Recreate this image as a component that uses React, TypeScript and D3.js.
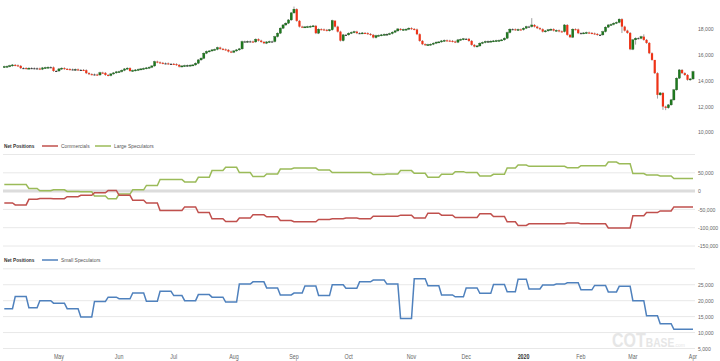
import React from "react";
import * as d3 from "d3";

// trading calendar: Apr 2 2019 -> Apr 1 2020, weekdays minus exchange holidays
const startDay = "2019-04-02";
const endDay = "2020-04-02";
const holidays = [
  "2019-04-19", "2019-05-27", "2019-07-04", "2019-09-02", "2019-11-28",
  "2019-12-25", "2020-01-01", "2020-01-20", "2020-02-17",
];

// daily closes, one row per week
const closes = [
  15090, 15110, 15160, 15220,
  15185, 15145, 14970, 14970, 14950,
  14970, 14960, 14950, 14940,
  14890, 14990, 15010, 15040, 15030,
  14750, 14750, 14910, 14970, 14910,
  14890, 14870, 14860, 14870, 14830,
  14830, 14810, 14580, 14500, 14480,
  14470, 14440, 14620, 14600, 14440,
  14400, 14520, 14600, 14680,
  14700, 14800, 14910, 14970, 14750,
  14790, 14830, 14870, 14910, 14950,
  14990, 15040, 15140, 15480, 15420,
  15380, 15340, 15340, 15300, 15300,
  15280, 15220, 15090, 15140,
  15170, 15180, 15200, 15220, 15350,
  15610, 15740, 16130, 16270, 16310,
  16390, 16430, 16570, 16470, 16430,
  16390, 16260, 16210, 16310, 16390,
  16470, 17040, 17040, 17050, 17040,
  17010, 17220, 17110, 17010, 16910,
  17010, 17040, 17040, 17420, 17690,
  18080, 18330, 18470, 18720, 19270,
  19560, 18650, 18200, 18160,
  18180, 18200, 18230, 18260, 17690,
  18000, 17980, 17950, 17890, 17950,
  18670, 18200, 17810, 17110, 17560,
  17560, 17690, 17750, 17810, 17690,
  17690, 17710, 17690, 17630, 17560,
  17350, 17500, 17520, 17560, 17600,
  17610, 17660, 17770, 17870, 18020,
  17950, 17980, 18000, 18080, 18020,
  17980, 17610, 17090, 16830, 16780,
  16800, 16830, 16910, 16990, 17010,
  17090, 17130, 17110, 17090, 17040,
  16990, 17170, 17210, 17250,
  17250, 17090, 16780, 16650, 16700,
  16910, 16970, 17040, 17050, 17070,
  17090, 17110, 17130, 17170, 17300,
  17740, 18000, 17990, 17950,
  17980, 17960, 18080, 18200,
  18200, 18330, 18200, 18080, 18000,
  17810, 17870, 17950, 18000, 17890,
  17910, 17830, 17810, 18330,
  17560, 17380, 18000, 17980, 17690,
  17690, 17710, 17740, 17710, 17670,
  17630, 17560, 17560, 17810, 18160,
  18330, 18370, 18470, 18530,
  18780, 18200, 17890, 17710, 16440,
  17170, 17300, 17290, 17420, 17170,
  16930, 16130, 15610, 14580, 12890,
  13040, 11980, 11880, 12110, 12500,
  13280, 14190, 14830, 14580, 14440,
  14060, 14130, 14700,
];
const firstOpen = 15060;
// notable wicks (index -> price)
const highs: Record<number, number> = { 106: 19760, 193: 18860, 121: 18500, 234: 17600, 238: 14900 };
const lows: Record<number, number> = { 239: 12600, 241: 11720, 242: 11700, 226: 17700, 231: 16800 };

// weekly net positions (one value per trading week)
const commercials = [
  -32400, -37800, -22400, -20000, -20800, -15400, -11600, -4600, 1900, -11600,
  -25100, -32400, -53200, -53200, -43200, -58600, -75700, -83000, -73800, -64900,
  -70300, -80300, -83800, -83800, -77600, -75700, -73800, -75700, -68400, -68400,
  -65700, -73800, -60300, -65700, -72200, -72200, -62200, -69200, -83800, -93800,
  -89200, -89200, -89200, -87000, -89500, -89500, -100800, -100800, -67600, -58600,
  -54100, -43200, -43200,
];
const largeSpeculators = [
  18100, 18100, 7300, 800, 3500, -800, -1800, -13500, -20800, -8100,
  3500, 15400, 31600, 31600, 25100, 37800, 56000, 64900, 50500, 39700,
  46800, 60300, 63000, 63000, 57600, 50500, 50500, 50500, 45100, 46800,
  56000, 48600, 37800, 46000, 53100, 50500, 41400, 46000, 63000, 71300,
  67600, 67600, 67600, 64000, 69400, 69400, 79200, 74900, 47800, 44100,
  41400, 34300, 34300,
];
const smallSpeculators = [
  17500, 21300, 17800, 20000, 19230, 17500, 14900, 19750, 21100, 20600,
  22400, 19850, 22950, 21600, 20000, 21900, 21100, 19550, 25200, 25900,
  24000, 21800, 22400, 24600, 21600, 25000, 23900, 25900, 26450, 25200,
  14400, 26850, 24700, 21800, 21200, 24000, 22300, 25100, 22800, 26750,
  23650, 24900, 25200, 25600, 23400, 24800, 22750, 24500, 20000, 15300,
  12750, 11000, 11000,
];

const priceTicks = [10000, 12000, 14000, 16000, 18000];
const netTicks = [-150000, -100000, -50000, 0, 50000, 100000];
const smallTicks = [5000, 10000, 15000, 20000, 25000, 30000];

const FONT = "'Liberation Sans', Arial, sans-serif";
const fmtNum = (v: number) => d3.format(",")(v).replace("\u2212", "-");

// condensed text: squeeze horizontally like a narrow face
const Narrow = ({ x, y, anchor = "start", size = 6.25, fill = "#666", bold = false, children }: any) => (
  <g transform={`translate(${x},${y}) scale(0.82,1)`}>
    <text dy="0.35em" textAnchor={anchor} fontSize={size} fill={fill} fontWeight={bold ? "bold" : "normal"}>
      {children}
    </text>
  </g>
);

export default function App() {
  const dayKey = d3.utcFormat("%Y-%m-%d");
  const days = d3.utcDay
    .range(new Date(startDay), new Date(endDay))
    .filter((d) => d.getUTCDay() !== 0 && d.getUTCDay() !== 6 && !holidays.includes(dayKey(d)));

  // week index of every trading day
  const weekKeys: number[] = [];
  const weekOf = days.map((d) => {
    const k = +d3.utcMonday.floor(d);
    if (weekKeys[weekKeys.length - 1] !== k) weekKeys.push(k);
    return weekKeys.length - 1;
  });

  const x = d3.scaleLinear().domain([0, days.length - 1]).range([4.3, 693]);
  const yPrice = d3.scaleLinear().domain([10000, 20000]).range([132, 3.5]);
  const yNet = d3.scaleLinear().domain([-150000, 100000]).range([246, 154.5]);
  const ySmall = d3.scaleLinear().domain([5000, 30000]).range([348.5, 268.8]);

  const monthTicks = days
    .map((d, i) => ({ d, i }))
    .filter(({ d, i }) => i > 0 && d.getUTCMonth() !== days[i - 1].getUTCMonth());

  const left = 3;
  const right = 695;

  const lineFor = (series: number[], y: d3.ScaleLinear<number, number>) =>
    d3
      .line<number>()
      .x((_, i) => x(i))
      .y((w) => y(series[w]))(weekOf) || "";

  const candles = closes.map((c, i) => {
    const o = i === 0 ? firstOpen : closes[i - 1];
    const h = highs[i] ?? Math.max(o, c) + 70;
    const l = lows[i] ?? Math.min(o, c) - 70;
    return { i, o, h, l, c };
  });

  const axisLabel = (v: number, y: number, key: string) => (
    <Narrow key={key} x={698} y={y}>{fmtNum(v)}</Narrow>
  );

  return (
    <svg
      width={720}
      height={361}
      style={{ position: "absolute", left: 0, top: 0, background: "#fff" }}
      fontFamily={FONT}
    >
      {/* watermark */}
      <g transform="translate(612,347) scale(0.82,1)">
        <text fill="#e6e6e6" fontWeight="bold">
          <tspan fontSize={19.5}>COT</tspan>
          <tspan fontSize={12.5}>BASE</tspan>
          <tspan fontSize={6} fontWeight="normal">.com</tspan>
        </text>
      </g>

      {/* price panel */}
      {priceTicks.map((v) => axisLabel(v, yPrice(v), "p" + v))}
      <g>
        {candles.map(({ i, h, l }) => (
          <line key={"w" + i} x1={x(i)} x2={x(i)} y1={yPrice(h)} y2={yPrice(l)} stroke="#888" strokeWidth={0.8} />
        ))}
        {candles.map(({ i, o, c }) => {
          const top = yPrice(Math.max(o, c));
          const hgt = Math.max(1, Math.abs(yPrice(o) - yPrice(c)));
          const fill = Math.abs(c - o) < 20 ? "#333" : c > o ? "#1e7a1e" : "#ee3317";
          return (
            <rect key={"b" + i} x={x(i) - 1.1} y={top} width={2.2} height={hgt} fill={fill}
              stroke={c > o ? "#134d13" : "none"} strokeWidth={0.3} />
          );
        })}
      </g>

      {/* commercials / large speculators panel */}
      {netTicks.map((v) => (
        <line key={"gn" + v} x1={left} x2={right} y1={yNet(v)} y2={yNet(v)}
          stroke={v === 0 ? "#dcdcdc" : "#e8e8e8"} strokeWidth={v === 0 ? 3 : 1} />
      ))}
      {netTicks.filter((v) => v !== 100000).map((v) => axisLabel(v, yNet(v), "n" + v))}
      <path d={lineFor(largeSpeculators, yNet)} fill="none" stroke="#9bbb59" strokeWidth={1.5} />
      <path d={lineFor(commercials, yNet)} fill="none" stroke="#c0504d" strokeWidth={1.5} />
      <Narrow x={4} y={146} size={5.8} bold fill="#333">Net Positions</Narrow>
      <line x1={42} x2={58} y1={146} y2={146} stroke="#c0504d" strokeWidth={1.5} />
      <Narrow x={61} y={146} size={6} fill="#555">Commercials</Narrow>
      <line x1={95} x2={111} y1={146} y2={146} stroke="#9bbb59" strokeWidth={1.5} />
      <Narrow x={114} y={146} size={6} fill="#555">Large Speculators</Narrow>

      {/* small speculators panel */}
      {smallTicks.map((v) => (
        <line key={"gs" + v} x1={left} x2={right} y1={ySmall(v)} y2={ySmall(v)} stroke="#e8e8e8" strokeWidth={1} />
      ))}
      {smallTicks.filter((v) => v !== 30000).map((v) => axisLabel(v, ySmall(v), "s" + v))}
      <path d={lineFor(smallSpeculators, ySmall)} fill="none" stroke="#4f81bd" strokeWidth={1.5} />
      <Narrow x={4} y={260} size={5.8} bold fill="#333">Net Positions</Narrow>
      <line x1={42} x2={58} y1={260} y2={260} stroke="#4f81bd" strokeWidth={1.5} />
      <Narrow x={61} y={260} size={6} fill="#555">Small Speculators</Narrow>

      {/* x axis months */}
      {monthTicks.map(({ d, i }) => {
        const isYear = d.getUTCMonth() === 0;
        return (
          <Narrow key={"m" + i} x={x(i)} y={357} anchor="middle" size={6.5}
            fill={isYear ? "#333" : "#666"} bold={isYear}>
            {isYear ? d3.utcFormat("%Y")(d) : d3.utcFormat("%b")(d)}
          </Narrow>
        );
      })}
    </svg>
  );
}
